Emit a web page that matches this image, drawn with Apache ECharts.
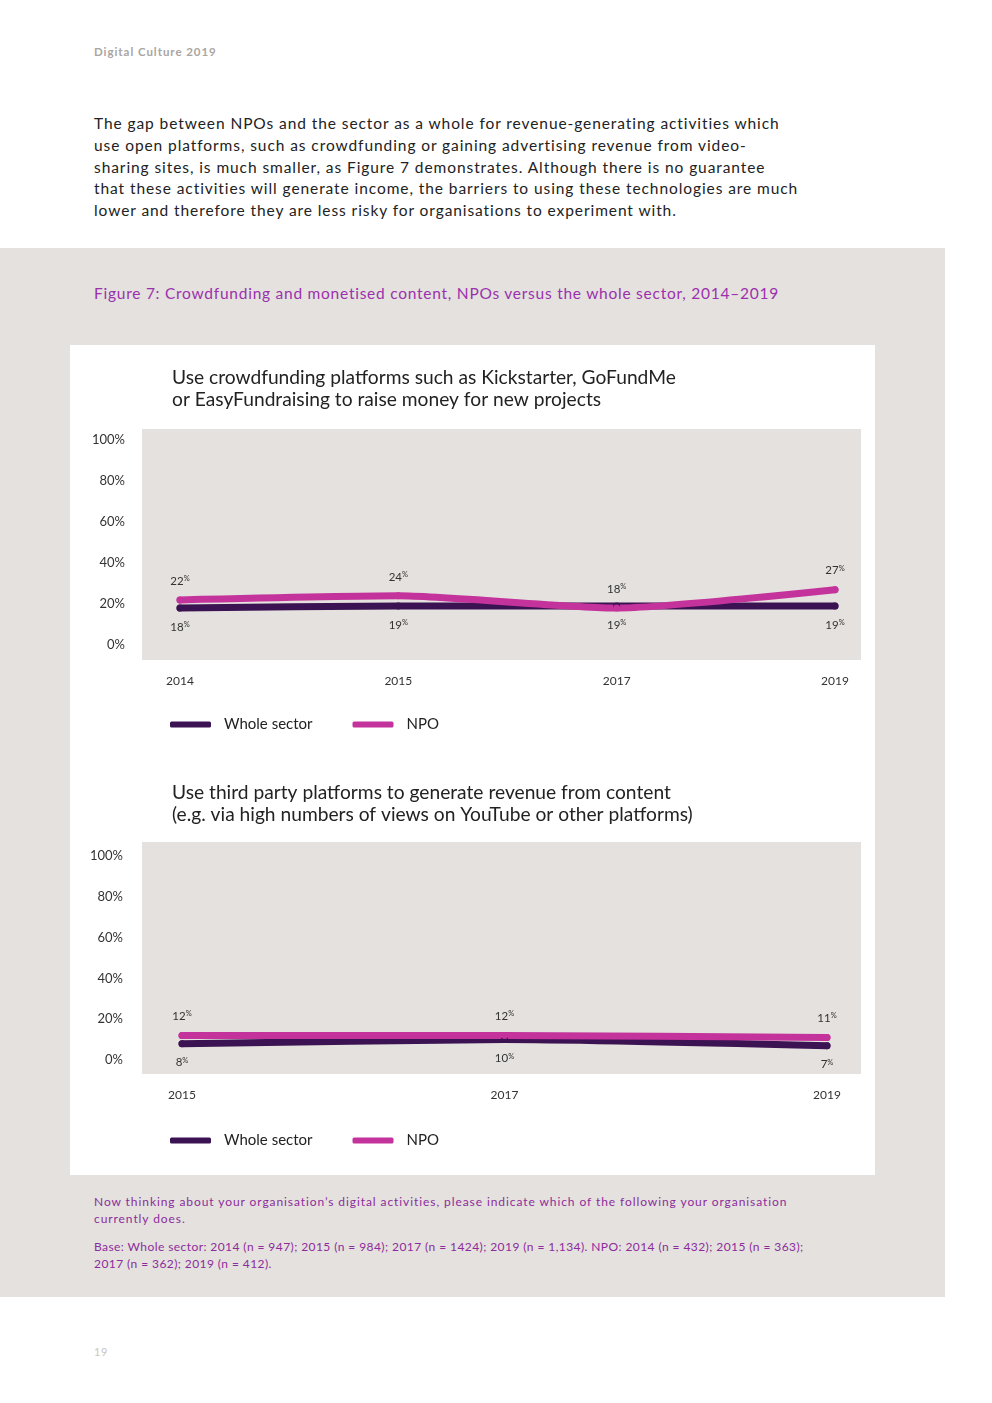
<!DOCTYPE html>
<html>
<head>
<meta charset="utf-8">
<script src="https://cdn.jsdelivr.net/npm/echarts@6/dist/echarts.min.js"></script>
<style>
  html, body { margin: 0; padding: 0; background: #fff; }
  body { width: 992px; height: 1403px; position: relative; overflow: hidden; font-family: Lato, "Noto Sans", sans-serif; }
  .abs { position: absolute; }
  #header { left: 94px; top: 45px; font-size: 11.5px; color: #aaa5a1; font-weight: bold; letter-spacing: 0.95px; }
  #para { left: 94px; top: 113px; font-size: 15.5px; line-height: 21.8px; color: #222; letter-spacing: 0.92px; white-space: nowrap; }
  #band { left: 0; top: 248px; width: 945px; height: 1049px; background: #e4e1de; }
  #figtitle { left: 94px; top: 284px; font-size: 15.5px; color: #9b30ad; letter-spacing: 0.75px; white-space: nowrap; }
  #card { left: 70px; top: 345px; width: 805px; height: 830px; background: #fff; }
  #notes { left: 94px; top: 1193px; font-size: 12px; line-height: 17px; color: #8c2c9c; white-space: nowrap; }
  #notes p { margin: 0 0 11px 0; }
  #notes p.q { letter-spacing: 0.92px; }
  #notes p.b { letter-spacing: 0.42px; }
  #pagenum { left: 94px; top: 1345px; font-size: 11px; color: #c9c4c0; letter-spacing: 0.5px; }
  #chart { left: 0; top: 0; width: 992px; height: 1403px; }
</style>
</head>
<body>
<div id="header" class="abs">Digital Culture 2019</div>
<div id="para" class="abs">The gap between NPOs and the sector as a whole for revenue-generating activities which<br>use open platforms, such as crowdfunding or gaining advertising revenue from video-<br>sharing sites, is much smaller, as Figure 7 demonstrates. Although there is no guarantee<br>that these activities will generate income, the barriers to using these technologies are much<br>lower and therefore they are less risky for organisations to experiment with.</div>
<div id="band" class="abs"></div>
<div id="figtitle" class="abs">Figure 7: Crowdfunding and monetised content, NPOs versus the whole sector, 2014–2019</div>
<div id="card" class="abs"></div>
<div id="notes" class="abs"><p class="q">Now thinking about your organisation’s digital activities, please indicate which of the following your organisation<br>currently does.</p><p class="b">Base: Whole sector: 2014 (n = 947); 2015 (n = 984); 2017 (n = 1424); 2019 (n = 1,134). NPO: 2014 (n = 432); 2015 (n = 363);<br>2017 (n = 362); 2019 (n = 412).</p></div>
<div id="pagenum" class="abs">19</div>
<div id="chart" class="abs"></div>
<script>
// ---- data ----
const years1 = ['2014', '2015', '2017', '2019'];
const whole1 = [18, 19, 19, 19];
const npo1 = [22, 24, 18, 27];

const years2 = ['2015', '2017', '2019'];
const whole2 = [8, 10, 7];
const npo2 = [12, 12, 11];

const yTicks = [0, 20, 40, 60, 80, 100];
const title1 = 'Use crowdfunding platforms such as Kickstarter, GoFundMe\nor EasyFundraising to raise money for new projects';
const title2 = 'Use third party platforms to generate revenue from content\n(e.g. via high numbers of views on YouTube or other platforms)';
const seriesNames = ['Whole sector', 'NPO'];

// ---- style ----
const FONT = 'Lato, "Noto Sans", sans-serif';
const C_WHOLE = '#3c1352';
const C_NPO = '#c4339b';
const PLOT_BG = '#e4e1de';

const chart = echarts.init(document.getElementById('chart'), null, { renderer: 'canvas' });

const labelRich = {
  n: { fontSize: 11.5, color: '#333', fontFamily: FONT, lineHeight: 13 },
  p: { fontSize: 7.5, color: '#333', fontFamily: FONT, lineHeight: 13, verticalAlign: 'top', padding: [0, 0, 5, 0] }
};
function lineSeries(name, data, color, xi, pos) {
  return {
    name: name, type: 'line', xAxisIndex: xi, yAxisIndex: xi, data: data,
    smooth: 0.2, symbol: 'circle', symbolSize: 7, showSymbol: true,
    itemStyle: { color: color },
    lineStyle: { color: color, width: 7, cap: 'round', join: 'round' },
    label: { show: true, position: pos, distance: 9, formatter: '{n|{c}}{p|%}', rich: labelRich },
    emphasis: { disabled: true }, animation: false, z: 5
  };
}
function yAxis(gi, margin) {
  return {
    type: 'value', gridIndex: gi, min: yTicks[0], max: yTicks[yTicks.length - 1], interval: yTicks[1] - yTicks[0],
    axisLine: { show: false }, axisTick: { show: false }, splitLine: { show: false },
    axisLabel: { formatter: '{value}%', fontSize: 13, color: '#333', fontFamily: FONT, margin: margin }
  };
}
function xAxis(gi, data, margin) {
  return {
    type: 'category', gridIndex: gi, data: data, boundaryGap: false,
    axisLine: { show: false }, axisTick: { show: false }, splitLine: { show: false },
    axisLabel: { fontSize: 12, color: '#333', fontFamily: FONT, margin: margin }
  };
}
function legend(top) {
  return {
    data: seriesNames, left: 170, top: top, padding: 0, orient: 'horizontal', icon: 'roundRect',
    itemWidth: 41, itemHeight: 6, itemGap: 40, selectedMode: false,
    textStyle: { fontSize: 15, color: '#222', fontFamily: FONT, padding: [0, 0, 0, 8] }
  };
}
const titleStyle = { fontSize: 19.2, fontWeight: 'normal', color: '#222', fontFamily: FONT, lineHeight: 22 };

chart.setOption({
  animation: false,
  title: [
    { text: title1, left: 172, top: 367, padding: 0, textStyle: titleStyle },
    { text: title2, left: 172, top: 782, padding: 0, textStyle: titleStyle }
  ],
  graphic: [
    { type: 'rect', shape: { x: 142, y: 429, width: 719, height: 231 }, style: { fill: PLOT_BG }, z: -10, silent: true },
    { type: 'rect', shape: { x: 142, y: 842, width: 719, height: 232 }, style: { fill: PLOT_BG }, z: -10, silent: true }
  ],
  legend: [legend(717), legend(1133)],
  grid: [
    { left: 180, top: 440, width: 655, height: 205, containLabel: false },
    { left: 182, top: 856, width: 645, height: 204, containLabel: false }
  ],
  xAxis: [xAxis(0, years1, 30), xAxis(1, years2, 29)],
  yAxis: [yAxis(0, 55), yAxis(1, 59)],
  series: [
    lineSeries(seriesNames[0], whole1, C_WHOLE, 0, 'bottom'),
    lineSeries(seriesNames[1], npo1, C_NPO, 0, 'top'),
    lineSeries(seriesNames[0], whole2, C_WHOLE, 1, 'bottom'),
    lineSeries(seriesNames[1], npo2, C_NPO, 1, 'top')
  ]
});
</script>
</body>
</html>
